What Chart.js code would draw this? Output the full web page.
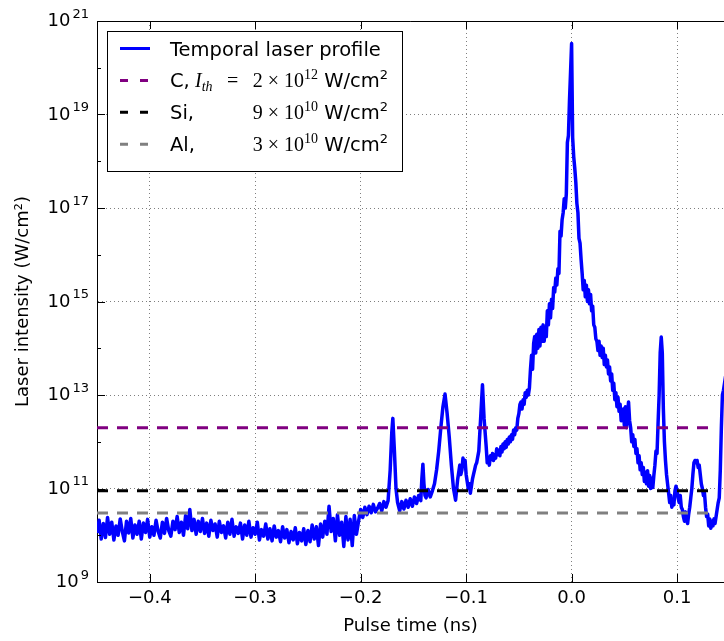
<!DOCTYPE html>
<html>
<head>
<meta charset="utf-8">
<script src="https://cdn.jsdelivr.net/npm/chart.js@4.4.0/dist/chart.umd.min.js"></script>
<style>
  html, body { margin: 0; padding: 0; background: #fff; }
</style>
</head>
<body>
<canvas id="chart" width="724" height="641"></canvas>
<script>
// pulse time (ns) and log10 of the laser intensity (W/cm^2)
const pulseTime = [
  -0.450, -0.448, -0.446, -0.444, -0.442, -0.440, -0.438, -0.436, -0.434, -0.432,
  -0.430, -0.428, -0.426, -0.424, -0.422, -0.420, -0.418, -0.416, -0.414, -0.412,
  -0.410, -0.408, -0.406, -0.404, -0.402, -0.400, -0.398, -0.396, -0.394, -0.392,
  -0.390, -0.388, -0.386, -0.384, -0.382, -0.380, -0.378, -0.376, -0.374, -0.372,
  -0.370, -0.368, -0.366, -0.364, -0.362, -0.360, -0.358, -0.356, -0.354, -0.352,
  -0.350, -0.348, -0.346, -0.344, -0.342, -0.340, -0.338, -0.336, -0.334, -0.332,
  -0.330, -0.328, -0.326, -0.324, -0.322, -0.320, -0.318, -0.316, -0.314, -0.312,
  -0.310, -0.308, -0.306, -0.304, -0.302, -0.300, -0.298, -0.296, -0.294, -0.292,
  -0.290, -0.288, -0.286, -0.284, -0.282, -0.280, -0.278, -0.276, -0.274, -0.272,
  -0.270, -0.268, -0.266, -0.264, -0.262, -0.260, -0.258, -0.256, -0.254, -0.252,
  -0.250, -0.248, -0.246, -0.244, -0.242, -0.240, -0.238, -0.236, -0.234, -0.232,
  -0.230, -0.228, -0.226, -0.224, -0.222, -0.220, -0.218, -0.216, -0.214, -0.212,
  -0.210, -0.208, -0.206, -0.204, -0.202,
  -0.200, -0.198, -0.196, -0.194, -0.192, -0.190, -0.188, -0.186, -0.184, -0.182, -0.180, -0.178, -0.176, -0.174,
  -0.172, -0.1705, -0.1695, -0.168, -0.1665,
  -0.165, -0.163, -0.161, -0.159, -0.157, -0.155, -0.153, -0.151, -0.149, -0.147, -0.145, -0.143,
  -0.142, -0.141, -0.140, -0.139, -0.138, -0.136, -0.134, -0.132, -0.130, -0.128, -0.126, -0.124,
  -0.122, -0.120, -0.118, -0.116, -0.114, -0.112, -0.110, -0.108, -0.106, -0.105, -0.104, -0.103,
  -0.102, -0.101, -0.100, -0.099, -0.098, -0.097, -0.096, -0.095, -0.094, -0.093, -0.092, -0.091,
  -0.090, -0.088, -0.086, -0.0845, -0.083, -0.081, -0.080, -0.079, -0.078, -0.077, -0.076, -0.075,
  -0.074, -0.073, -0.072, -0.071, -0.070, -0.069, -0.068, -0.067, -0.066, -0.065, -0.064, -0.063,
  -0.062, -0.061, -0.060, -0.059, -0.058, -0.057, -0.056, -0.055, -0.054, -0.053, -0.052, -0.051,
  -0.050, -0.049, -0.048, -0.047, -0.046, -0.045, -0.044, -0.043, -0.042, -0.041,
  -0.040, -0.039, -0.038, -0.037, -0.036, -0.035, -0.034, -0.033, -0.032, -0.031, -0.030, -0.029,
  -0.028, -0.027, -0.026, -0.025, -0.024, -0.023, -0.022, -0.021, -0.020, -0.019, -0.018, -0.017,
  -0.016, -0.015, -0.014, -0.013, -0.012, -0.011, -0.010, -0.009, -0.008, -0.007, -0.006, -0.005,
  -0.004, -0.003, -0.002, -0.001, 0.000, 0.001, 0.002, 0.003, 0.004, 0.005, 0.006, 0.007,
  0.008, 0.009, 0.010, 0.011, 0.012, 0.013, 0.014, 0.015, 0.016, 0.017, 0.018, 0.019,
  0.020, 0.021, 0.022, 0.023, 0.024, 0.025, 0.026, 0.027, 0.028, 0.029, 0.030, 0.031,
  0.032, 0.033, 0.034, 0.035, 0.036, 0.037, 0.038, 0.039, 0.040, 0.041, 0.042, 0.043,
  0.044, 0.045, 0.046, 0.047, 0.048, 0.049, 0.050, 0.051, 0.052, 0.053, 0.054, 0.055,
  0.056, 0.057, 0.058, 0.059, 0.060, 0.061, 0.062, 0.063, 0.064, 0.065, 0.066, 0.067,
  0.068, 0.069, 0.070, 0.071, 0.072, 0.073, 0.074, 0.075, 0.076, 0.077, 0.078, 0.079,
  0.080, 0.081, 0.082, 0.083, 0.084, 0.085, 0.086, 0.087, 0.088, 0.089, 0.090, 0.091,
  0.092, 0.093, 0.094, 0.095, 0.096, 0.097, 0.098, 0.099, 0.100, 0.101, 0.102, 0.103,
  0.104, 0.105, 0.106, 0.107, 0.108, 0.109, 0.110, 0.111, 0.112, 0.113, 0.114, 0.115,
  0.116, 0.117, 0.118, 0.119, 0.120, 0.121, 0.122, 0.123, 0.124, 0.125, 0.126, 0.127,
  0.128, 0.129, 0.130, 0.131, 0.132, 0.133, 0.134, 0.135, 0.136, 0.137, 0.138, 0.139,
  0.140, 0.141, 0.142, 0.143, 0.144, 0.146
];
const logIntensity = [
  10.05, 10.32, 9.92, 10.25, 9.95, 10.38, 10.02, 10.28, 9.90, 10.20,
  10.00, 10.35, 10.08, 9.88, 10.30, 10.05, 10.36, 9.94, 10.22, 10.02,
  10.30, 9.92, 10.26, 10.06, 10.34, 9.96, 10.18, 10.00, 10.32, 10.08,
  9.94, 10.28, 10.04, 10.36, 10.10, 9.98, 10.30, 10.12, 10.40, 10.06,
  10.28, 10.00, 10.42, 10.14, 10.55, 10.10, 10.34, 10.02, 10.30, 10.08,
  10.36, 10.04, 10.26, 9.98, 10.32, 10.10, 10.24, 9.96, 10.30, 10.06,
  10.20, 9.94, 10.28, 10.02, 10.34, 9.98, 10.18, 10.04, 10.26, 9.92,
  10.22, 10.00, 10.30, 9.96, 10.16, 10.02, 10.28, 9.90, 10.12, 9.98,
  10.24, 9.92, 10.14, 9.88, 10.20, 9.96, 10.10, 9.86, 10.18, 9.94,
  10.12, 9.84, 10.08, 9.90, 10.16, 9.82, 10.06, 9.88, 10.14, 9.80,
  10.10, 9.86, 10.22, 9.92, 10.18, 9.78, 10.24, 9.96, 10.30, 10.02,
  10.62, 10.08, 10.36, 9.88, 10.44, 10.00, 10.28, 9.76, 10.40, 9.90,
  10.34, 9.78, 10.42, 10.02, 10.30,
  10.55, 10.38, 10.60, 10.44, 10.62, 10.48, 10.66, 10.50, 10.58, 10.68, 10.52, 10.72, 10.60, 10.74,
  11.40, 12.20, 12.50, 11.80, 11.00,
  10.70, 10.52, 10.72, 10.56, 10.75, 10.60, 10.78, 10.62, 10.82, 10.68, 10.85, 10.74,
  11.20, 11.52, 11.10, 10.85, 10.80, 10.98, 10.82, 10.95, 11.10, 11.40, 11.80, 12.30,
  12.75, 13.02, 12.60, 12.10, 11.50, 11.00, 10.75, 11.20, 11.50, 11.30, 11.40, 11.65,
  11.55, 11.60, 11.30, 11.15, 11.00, 11.10, 10.90, 11.05, 11.20, 11.30, 11.40, 11.50,
  11.55, 11.80, 12.60, 13.22, 12.50, 11.90, 11.55, 11.65, 11.50, 11.70, 11.62, 11.75,
  11.60, 11.72, 11.65, 11.85, 11.72, 11.82, 11.70, 11.90, 11.78, 11.95, 11.85, 12.00,
  11.88, 12.05, 11.95, 12.10, 12.00, 12.15, 12.05, 12.25, 12.15, 12.30, 12.25, 12.50,
  12.60, 12.80, 12.85, 12.70, 12.90, 12.80, 13.05, 12.95, 13.10, 13.00,
  13.15, 13.55, 13.85, 13.55, 14.10, 14.25, 13.90, 14.30, 14.00, 14.40, 14.05, 14.45,
  14.15, 14.50, 14.15, 14.45, 14.25, 14.80, 14.50, 14.95, 14.65, 15.05, 14.85, 15.30,
  15.20, 15.50, 15.35, 15.70, 15.60, 16.50, 16.40, 16.75, 16.90, 17.20, 17.00, 17.30,
  18.40, 18.55, 19.30, 19.90, 20.52, 18.50, 18.10, 17.85, 17.55, 17.10, 16.90, 16.35,
  16.25, 15.90, 15.60, 15.25, 15.45, 15.10, 15.35, 15.00, 15.25, 14.95, 15.15, 14.80,
  14.90, 14.50, 14.45, 14.20, 14.15, 13.95, 14.15, 13.85, 14.05, 13.80, 14.00, 13.65,
  13.85, 13.60, 13.75, 13.45, 13.60, 13.30, 13.45, 13.10, 13.25, 12.90, 13.05, 12.75,
  12.95, 12.65, 12.80, 12.45, 12.50, 12.70, 12.35, 12.75, 12.30, 12.60, 12.85, 12.45,
  12.30, 12.00, 12.15, 11.90, 12.05, 11.75, 11.85, 11.55, 11.70, 11.40, 11.55, 11.30,
  11.45, 11.15, 11.35, 11.10, 11.38, 11.05, 11.28, 11.00, 11.22, 11.02, 11.28, 11.50,
  11.80, 11.75, 12.40, 13.00, 13.90, 14.24, 13.90, 12.70, 12.00, 11.60, 11.30, 11.10,
  10.90, 10.70, 10.85, 10.60, 10.75, 10.65, 10.95, 11.05, 10.95, 10.80, 10.70, 10.85,
  10.60, 10.55, 10.40, 10.30, 10.50, 10.35, 10.25, 10.45, 10.60, 10.80, 11.00, 11.30,
  11.55, 11.60, 11.55, 11.60, 11.45, 11.50, 11.30, 11.10, 11.00, 10.85, 10.90, 10.60,
  10.40, 10.45, 10.20, 10.35, 10.15, 10.30, 10.20, 10.35, 10.25, 10.40, 10.55, 10.70,
  10.80, 11.40, 12.30, 13.00, 13.10, 13.40
];

// ablation thresholds
const thresholdNames = ['C', 'Si', 'Al'];
const thresholdValues = [2e12, 9e10, 3e10];
const thresholdSpan = [-0.45, 0.135];

const timeTicks = [-0.4, -0.3, -0.2, -0.1, 0.0, 0.1];
const decadeTicks = [9, 10, 11, 12, 13, 14, 15, 16, 17, 18, 19, 20, 21];
const labeledDecades = [9, 11, 13, 15, 17, 19, 21];

const SANS = '"DejaVu Sans", sans-serif';
const SERIF = '"Liberation Serif", "DejaVu Serif", serif';
const thresholdColors = ['#800080', '#000000', '#808080'];
const gridColor = 'rgba(0, 0, 0, 0.5)';

const laserPoints = pulseTime.map((t, i) => ({ x: t, y: Math.pow(10, logIntensity[i]) }));

function formatTime(v) {
    return (v < 0 ? '\u2212' : '') + Math.abs(v).toFixed(1);
}

// draws a run of text pieces; returns total width
function drawRuns(ctx, runs, x, y, measureOnly) {
    let w = 0;
    runs.forEach(r => {
        ctx.font = r.font;
        if (!measureOnly) ctx.fillText(r.text, x + w, y - (r.dy || 0));
        w += ctx.measureText(r.text).width;
    });
    return w;
}

const frame = {
    id: 'frame',
    afterDraw(chart) {
        const { ctx, chartArea: a, scales: { x, y } } = chart;
        ctx.save();

        // top spine and inward tick marks
        ctx.strokeStyle = '#000';
        ctx.lineWidth = 1;
        ctx.beginPath();
        ctx.moveTo(a.left, a.top + 0.5);
        ctx.lineTo(a.right, a.top + 0.5);
        timeTicks.forEach(t => {
            const px = Math.round(x.getPixelForValue(t)) + 0.5;
            ctx.moveTo(px, a.bottom);
            ctx.lineTo(px, a.bottom - 8);
            ctx.moveTo(px, a.top);
            ctx.lineTo(px, a.top + 8);
        });
        decadeTicks.forEach(e => {
            const py = Math.round(y.getPixelForValue(Math.pow(10, e))) + 0.5;
            const len = labeledDecades.includes(e) ? 8 : 4;
            ctx.moveTo(a.left, py);
            ctx.lineTo(a.left + len, py);
        });
        ctx.stroke();

        // y tick labels 10^n
        ctx.fillStyle = '#000';
        ctx.textBaseline = 'alphabetic';
        ctx.textAlign = 'left';
        labeledDecades.forEach(e => {
            const py = y.getPixelForValue(Math.pow(10, e));
            ctx.font = '13px ' + SANS;
            const ew = ctx.measureText(String(e)).width;
            ctx.fillText(String(e), a.left - 8 - ew, py - 3.5);
            ctx.font = '18px ' + SANS;
            ctx.fillText('10', a.left - 10 - ew - ctx.measureText('10').width, py + 5);
        });

        // legend
        const bx = a.left + 10, by = a.top + 10, bw = 295, bh = 140;
        ctx.fillStyle = '#fff';
        ctx.fillRect(bx, by, bw, bh);
        ctx.strokeStyle = '#000';
        ctx.lineWidth = 1;
        ctx.strokeRect(bx + 0.5, by + 0.5, bw, bh);

        const rowY = i => by + 17.5 + i * 31.9;
        const sampleX = bx + 13, textX = bx + 63, rightX = bx + 281;
        const datasets = chart.data.datasets;
        datasets.forEach((ds, i) => {
            const ry = rowY(i);
            ctx.strokeStyle = ds.borderColor;
            ctx.lineWidth = 3;
            ctx.setLineDash(i === 0 ? [] : [8, 12]);
            ctx.beginPath();
            ctx.moveTo(sampleX, ry);
            ctx.lineTo(sampleX + 30, ry);
            ctx.stroke();
        });
        ctx.setLineDash([]);
        ctx.fillStyle = '#000';
        ctx.font = '19.5px ' + SANS;
        ctx.fillText(datasets[0].label, textX, rowY(0) + 7);

        thresholdValues.forEach((v, i) => {
            const ry = rowY(i + 1) + 7;
            const exp = Math.floor(Math.log10(v));
            const coef = Math.round(v / Math.pow(10, exp));
            ctx.font = '19.5px ' + SANS;
            ctx.fillText(thresholdNames[i] + ',', textX, ry);
            if (i === 0) {
                drawRuns(ctx, [
                    { text: 'I', font: 'italic 20px ' + SERIF },
                    { text: 'th', font: 'italic 14px ' + SERIF, dy: -4 }
                ], textX + 25, ry);
                ctx.font = '20px ' + SERIF;
                ctx.fillText('=', textX + 57, ry);
            }
            const runs = [
                { text: coef + ' \u00d7 10', font: '20px ' + SERIF },
                { text: String(exp), font: '14px ' + SERIF, dy: 8.5 },
                { text: ' W/cm', font: '19.5px ' + SANS },
                { text: '2', font: '13px ' + SANS, dy: 8.5 }
            ];
            const w = drawRuns(ctx, runs, 0, 0, true);
            drawRuns(ctx, runs, rightX - w, ry);
        });

        ctx.restore();
    }
};

new Chart(document.getElementById('chart'), {
    type: 'line',
    data: {
        datasets: [
            {
                label: 'Temporal laser profile',
                data: laserPoints,
                borderColor: '#0000ff',
                borderWidth: 3.5,
                borderJoinStyle: 'round',
                pointRadius: 0,
                tension: 0,
                order: 10
            },
            ...thresholdValues.map((v, i) => ({
                label: thresholdNames[i],
                data: thresholdSpan.map(t => ({ x: t, y: v })),
                borderColor: thresholdColors[i],
                borderWidth: 3,
                borderDash: [11, 9],
                pointRadius: 0,
                order: i + 1
            }))
        ]
    },
    options: {
        responsive: false,
        animation: false,
        layout: { padding: { top: 21, right: 0, bottom: 0, left: 0 } },
        plugins: {
            legend: { display: false },
            tooltip: { enabled: false }
        },
        scales: {
            x: {
                type: 'linear',
                min: -0.45,
                max: 0.1445,
                afterBuildTicks: s => { s.ticks = timeTicks.map(v => ({ value: v })); },
                afterFit: s => { s.height = 59; },
                ticks: {
                    color: '#000',
                    font: { family: SANS, size: 18 },
                    padding: 6,
                    maxRotation: 0,
                    callback: v => formatTime(v)
                },
                grid: { color: gridColor, lineWidth: 1, drawTicks: false },
                border: { color: '#000', width: 1, dash: [1, 3] },
                title: {
                    display: true,
                    text: 'Pulse time (ns)',
                    color: '#000',
                    font: { family: SANS, size: 18 },
                    padding: { top: 0, bottom: 4 }
                }
            },
            y: {
                type: 'logarithmic',
                min: 1e9,
                max: 1e21,
                afterBuildTicks: s => { s.ticks = decadeTicks.map(e => ({ value: Math.pow(10, e) })); },
                afterFit: s => { s.width = 97; },
                ticks: { display: false },
                grid: {
                    color: c => (c.tick && labeledDecades.includes(Math.round(Math.log10(c.tick.value)))) ? gridColor : 'transparent',
                    lineWidth: 1,
                    drawTicks: false
                },
                border: { color: '#000', width: 1, dash: [1, 3] },
                title: {
                    display: true,
                    text: 'Laser intensity (W/cm\u00b2)',
                    color: '#000',
                    font: { family: SANS, size: 18 },
                    padding: { top: 13, bottom: 0 }
                }
            }
        }
    },
    plugins: [frame]
});
</script>
</body>
</html>
